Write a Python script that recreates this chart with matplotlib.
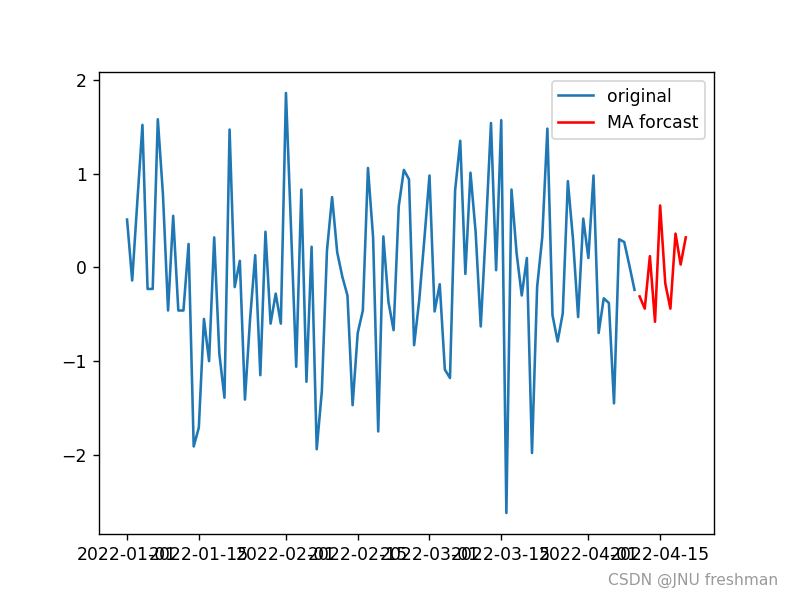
import numpy as np
import pandas as pd
import matplotlib as mpl
mpl.use('Agg')
import matplotlib.pyplot as plt
import matplotlib.dates as mdates

# observed series, daily from 2022-01-01 (100 days)
original = [
    0.51, -0.14, 0.70, 1.52, -0.23, -0.23, 1.58, 0.78, -0.46, 0.55,
    -0.46, -0.46, 0.25, -1.91, -1.71, -0.55, -1.00, 0.32, -0.92, -1.39,
    1.47, -0.21, 0.07, -1.41, -0.55, 0.13, -1.15, 0.38, -0.60, -0.28,
    -0.60, 1.86, 0.40, -1.06, 0.83, -1.22, 0.22, -1.94, -1.32, 0.18,
    0.75, 0.16, -0.10, -0.30, -1.47, -0.70, -0.46, 1.06, 0.32, -1.75,
    0.33, -0.37, -0.67, 0.65, 1.04, 0.94, -0.83, -0.35, 0.30, 0.98,
    -0.47, -0.18, -1.09, -1.18, 0.82, 1.35, -0.07, 1.01, 0.38, -0.63,
    0.40, 1.54, -0.03, 1.57, -2.62, 0.83, 0.15, -0.30, 0.10, -1.98,
    -0.21, 0.32, 1.48, -0.51, -0.79, -0.49, 0.92, 0.30, -0.53, 0.52,
    0.10, 0.98, -0.70, -0.33, -0.38, -1.45, 0.30, 0.27, 0.02, -0.24,
]
# MA forecast for the next 10 days
forecast = [-0.31, -0.44, 0.12, -0.58, 0.66, -0.17, -0.44, 0.36, 0.03, 0.32]

dates = pd.date_range('2022-01-01', periods=len(original), freq='D')
fdates = pd.date_range(dates[-1] + pd.Timedelta(days=1), periods=len(forecast), freq='D')

fig = plt.figure(figsize=(793 / 124, 600 / 124), dpi=124)
ax = fig.add_subplot(111)
ax.plot(dates, original, label='original')
ax.plot(fdates, forecast, color='red', label='MA forcast')
ax.xaxis.set_major_locator(mdates.DayLocator(bymonthday=[1, 15]))
ax.xaxis.set_major_formatter(mdates.DateFormatter('%Y-%m-%d'))
ax.legend(loc='upper right')

fig.text(0.982, 0.02, 'CSDN @JNU freshman', ha='right', va='bottom',
         color='#9a9a9a', fontsize=9)

plt.savefig('out.png')
